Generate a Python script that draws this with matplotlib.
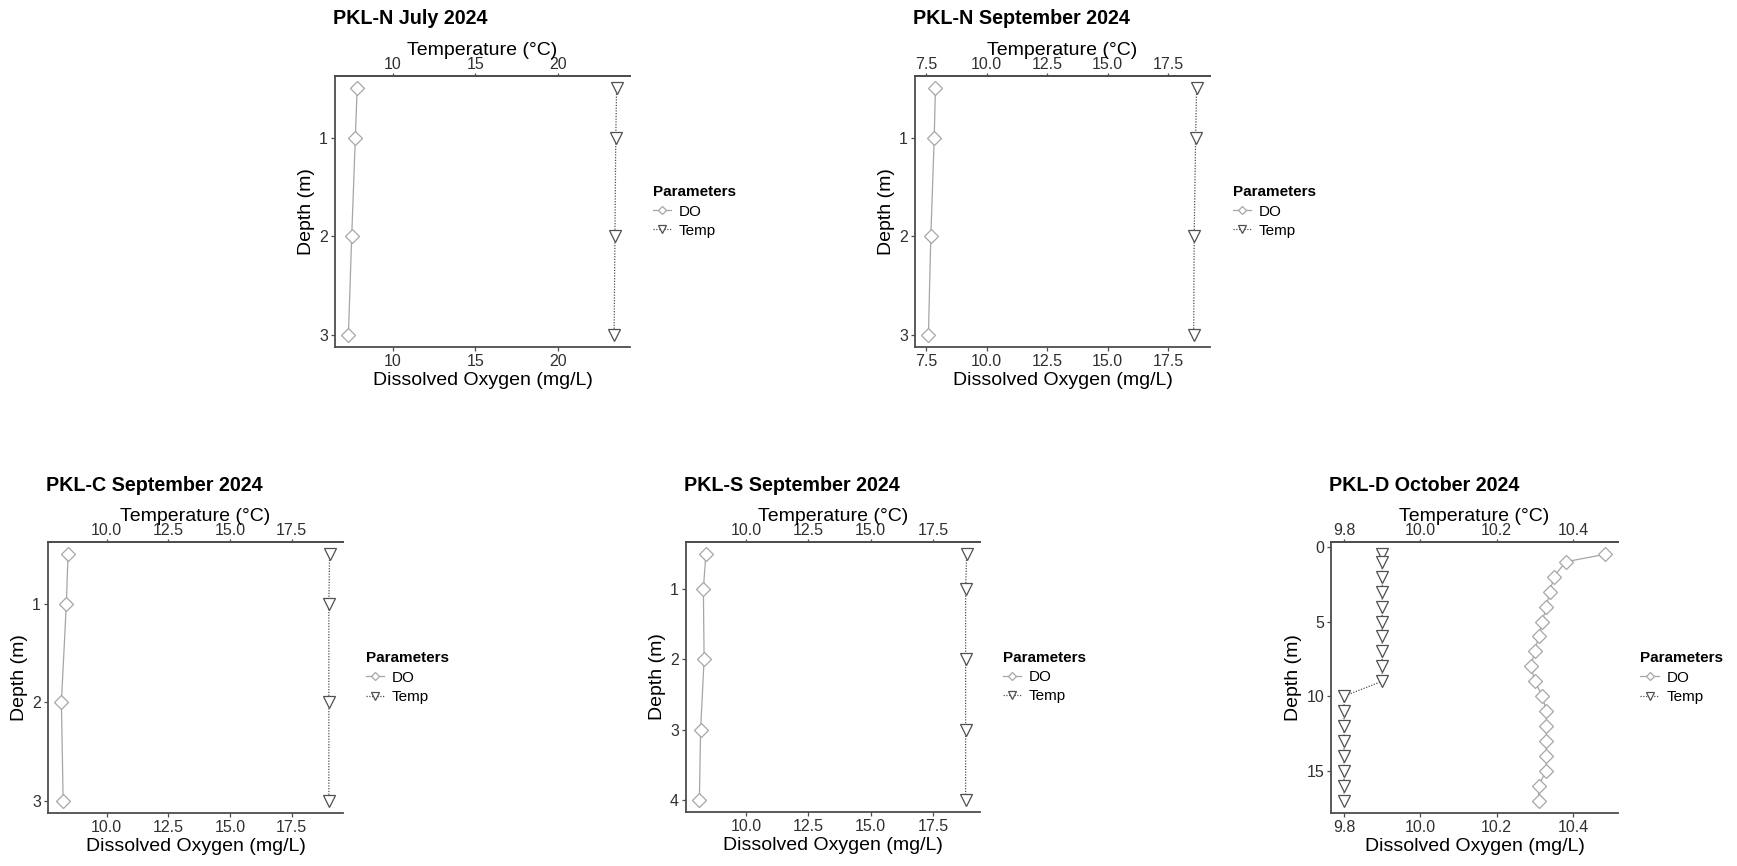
import numpy as np
import matplotlib.pyplot as plt

plt.rcParams['font.family'] = ['Liberation Sans', 'DejaVu Sans']

W, H = 1737, 866

# --- data ---
titles = ["PKL-N July 2024", "PKL-N September 2024", "PKL-C September 2024",
          "PKL-S September 2024", "PKL-D October 2024"]

depth_n_jul = [0.5, 1, 2, 3]
do_n_jul = [7.83, 7.72, 7.50, 7.30]
temp_n_jul = [23.55, 23.50, 23.45, 23.40]

depth_n_sep = [0.5, 1, 2, 3]
do_n_sep = [7.89, 7.84, 7.70, 7.60]
temp_n_sep = [18.67, 18.63, 18.57, 18.55]

depth_c_sep = [0.5, 1, 2, 3]
do_c_sep = [8.44, 8.37, 8.17, 8.24]
temp_c_sep = [19.03, 19.00, 19.00, 19.00]

depth_s_sep = [0.5, 1, 2, 3, 4]
do_s_sep = [8.39, 8.29, 8.32, 8.18, 8.13]
temp_s_sep = [18.84, 18.80, 18.80, 18.80, 18.80]

depth_d_oct = [0.5, 1, 2, 3, 4, 5, 6, 7, 8, 9, 10, 11, 12, 13, 14, 15, 16, 17]
do_d_oct = [10.484, 10.381, 10.35, 10.34, 10.33, 10.32, 10.31, 10.30, 10.29,
            10.30, 10.32, 10.33, 10.33, 10.33, 10.33, 10.33, 10.31, 10.31]
temp_d_oct = [9.9, 9.9, 9.9, 9.9, 9.9, 9.9, 9.9, 9.9, 9.9, 9.9,
              9.8, 9.8, 9.8, 9.8, 9.8, 9.8, 9.8, 9.8]

xticks = [[10, 15, 20],
          [7.5, 10.0, 12.5, 15.0, 17.5],
          [10.0, 12.5, 15.0, 17.5],
          [10.0, 12.5, 15.0, 17.5],
          [9.8, 10.0, 10.2, 10.4]]
xfmt = ["{:.0f}", "{:.1f}", "{:.1f}", "{:.1f}", "{:.1f}"]
yticks = [[1, 2, 3], [1, 2, 3], [1, 2, 3], [1, 2, 3, 4], [0, 5, 10, 15]]

panels = [(depth_n_jul, do_n_jul, temp_n_jul),
          (depth_n_sep, do_n_sep, temp_n_sep),
          (depth_c_sep, do_c_sep, temp_c_sep),
          (depth_s_sep, do_s_sep, temp_s_sep),
          (depth_d_oct, do_d_oct, temp_d_oct)]

# axes boxes in pixels: left, right, top, bottom
boxes = [(335, 630, 76, 347), (915, 1210, 76, 347),
         (48, 343, 542, 813), (686, 980, 542, 812), (1331, 1618, 542, 813)]

DO_COL = '#a6a6a6'
TEMP_COL = '#505050'
AX_COL = '#4d4d4d'
TXT_COL = '#303030'


def expand(lo, hi, f=0.05):
    d = (hi - lo) * f
    return lo - d, hi + d


fig = plt.figure(figsize=(W / 100, H / 100), dpi=100)

for i, (depth, do, temp) in enumerate(panels):
    l, r, t, b = boxes[i]
    ax = fig.add_axes([l / W, 1 - b / H, (r - l) / W, (b - t) / H])

    ax.plot(do, depth, color=DO_COL, lw=0.9, ls='-', marker='D', ms=7,
            mfc='white', mec=DO_COL, mew=0.9, label='DO', zorder=3)
    ax.plot(temp, depth, color=TEMP_COL, lw=0.9, ls=(0, (1, 1.2)), marker='v',
            ms=9, mfc='white', mec=TEMP_COL, mew=0.9, label='Temp', zorder=3)

    allx = list(do) + list(temp)
    ax.set_xlim(*expand(min(allx), max(allx)))
    y0, y1 = expand(min(depth), max(depth))
    ax.set_ylim(y1, y0)

    ax.set_xticks(xticks[i])
    ax.set_xticklabels([xfmt[i].format(v) for v in xticks[i]])
    ax.set_yticks(yticks[i])

    for s in ['left', 'bottom', 'top']:
        ax.spines[s].set_color(AX_COL)
        ax.spines[s].set_linewidth(1.3)
    ax.spines['right'].set_visible(False)
    ax.tick_params(colors=AX_COL, labelcolor=TXT_COL, labelsize=11.5,
                   length=3, width=0.9, pad=2)

    sec = ax.secondary_xaxis('top')
    sec.set_xticks(xticks[i])
    sec.set_xticklabels([xfmt[i].format(v) for v in xticks[i]])
    sec.spines['top'].set_color(AX_COL)
    sec.spines['top'].set_linewidth(1.3)
    sec.tick_params(colors=AX_COL, labelcolor=TXT_COL, labelsize=11.5,
                    length=2.5, width=0.9, pad=0.5)
    sec.set_xlabel('Temperature (°C)', fontsize=14, color='black', labelpad=1)

    ax.set_xlabel('Dissolved Oxygen (mg/L)', fontsize=14, labelpad=2)
    ax.set_ylabel('Depth (m)', fontsize=14, labelpad=3)

    fig.text((l - 2) / W, 1 - (t - 57) / H, titles[i], fontsize=14.2,
             fontweight='bold', ha='left', va='center')

    leg = ax.legend(loc='center left', bbox_to_anchor=(1.03, 0.5),
                    title='Parameters', frameon=False, fontsize=11,
                    markerscale=0.6, handlelength=1.2, handletextpad=0.5,
                    labelspacing=0.35, alignment='left')
    leg.get_title().set_fontweight('bold')
    leg.get_title().set_fontsize(11)

fig.savefig('out.png', dpi=100, facecolor='white')
